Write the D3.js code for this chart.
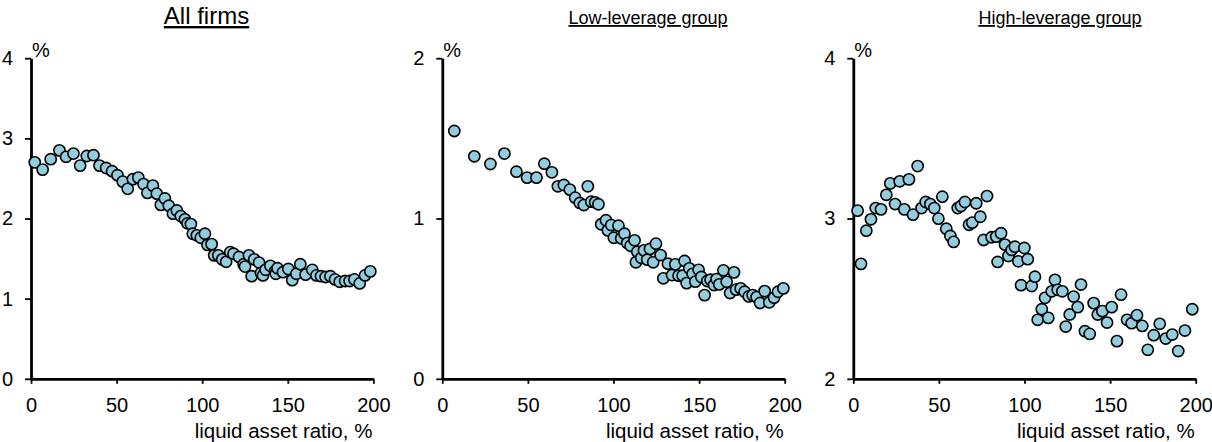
<!DOCTYPE html>
<html>
<head>
<meta charset="utf-8">
<script src="https://cdn.jsdelivr.net/npm/d3@7"></script>
<style>
  html, body { margin: 0; padding: 0; background: #fff; }
  svg { display: block; font-family: "Liberation Sans", Arial, sans-serif; }
</style>
</head>
<body>
<svg id="chart" width="1212" height="442"></svg>
<script>
// Panel titles and axis labels
const panelTitles = ["All firms", "Low-leverage group", "High-leverage group"];
const xTickValues = [0, 50, 100, 150, 200];
const yTickSets = [[0, 1, 2, 3, 4], [0, 1, 2], [2, 3, 4]];
const xAxisLabel = "liquid asset ratio, %";
const yUnitLabel = "%";

// All firms: liquid asset ratio (%) vs rate (%)
const allRatio = [2.2, 6.8, 11.5, 16.6, 20.5, 24.8, 28.7, 32.6, 36.5, 40.0, 43.9, 47.4, 50.5, 53.6, 56.5, 59.5, 62.7, 65.7, 68.0, 71.2,
  73.5, 75.8, 78.2, 80.5, 82.9, 85.2, 87.5, 89.9, 91.4, 93.4, 94.5, 96.9, 99.2, 101.6, 103.1, 105.5, 107.0, 109.4, 111.7, 114.0,
  116.4, 118.3, 121.5, 124.2, 125.0, 127.3, 128.9, 130.4, 133.2, 134.3, 135.5, 137.0, 139.8, 142.5, 143.0, 144.0, 147.2, 150.3, 152.6, 155.0,
  157.3, 160.4, 164.3, 166.7, 169.4, 172.1, 174.9, 177.6, 180.3, 183.5, 186.1, 188.9, 192.0, 195.1, 198.2];
const allRate = [2.70, 2.61, 2.74, 2.85, 2.77, 2.81, 2.66, 2.78, 2.79, 2.66, 2.63, 2.59, 2.54, 2.46, 2.37, 2.49, 2.51, 2.43, 2.32, 2.41,
  2.31, 2.17, 2.25, 2.16, 2.06, 2.10, 2.03, 1.99, 1.94, 1.93, 1.81, 1.79, 1.76, 1.81, 1.67, 1.68, 1.54, 1.54, 1.49, 1.46,
  1.58, 1.56, 1.52, 1.43, 1.40, 1.54, 1.28, 1.49, 1.45, 1.32, 1.29, 1.36, 1.41, 1.34, 1.31, 1.38, 1.33, 1.37, 1.23, 1.31,
  1.43, 1.30, 1.36, 1.29, 1.28, 1.27, 1.28, 1.24, 1.21, 1.22, 1.22, 1.24, 1.19, 1.29, 1.34];

// Low-leverage group
const lowRatio = [7.0, 18.7, 28.1, 36.3, 43.3, 49.5, 55.0, 59.6, 64.0, 67.5, 71.0, 74.5, 77.6, 80.3, 82.7, 85.0, 87.0, 89.3, 91.2, 92.8,
  95.6, 96.7, 98.7, 100.2, 102.9, 104.5, 106.4, 108.0, 110.0, 112.3, 113.9, 113.1, 116.2, 117.8, 119.7, 121.3, 123.2, 124.8, 127.5, 129.1,
  131.8, 134.2, 136.1, 138.0, 140.4, 141.5, 142.7, 144.3, 146.2, 147.8, 149.7, 151.3, 153.2, 154.8, 156.7, 158.7, 160.2, 161.8, 164.2, 166.1,
  168.1, 170.4, 171.6, 174.3, 176.6, 179.0, 181.3, 183.6, 185.6, 188.3, 191.0, 193.8, 196.1, 199.2];
const lowRate = [1.546, 1.388, 1.340, 1.405, 1.292, 1.255, 1.255, 1.342, 1.288, 1.201, 1.209, 1.180, 1.130, 1.097, 1.084, 1.201, 1.105, 1.101, 1.089, 0.964,
  0.989, 0.926, 0.959, 0.880, 0.955, 0.876, 0.905, 0.847, 0.830, 0.864, 0.793, 0.727, 0.755, 0.801, 0.743, 0.810, 0.727, 0.843, 0.772, 0.627,
  0.718, 0.647, 0.714, 0.643, 0.643, 0.735, 0.597, 0.689, 0.655, 0.606, 0.680, 0.635, 0.522, 0.610, 0.618, 0.585, 0.622, 0.589, 0.677, 0.605,
  0.535, 0.664, 0.556, 0.564, 0.543, 0.514, 0.522, 0.510, 0.473, 0.547, 0.477, 0.506, 0.543, 0.564];

// High-leverage group
const highRatio = [2.5, 4.5, 7.6, 10.3, 13.1, 16.2, 19.3, 21.6, 24.4, 27.1, 29.8, 32.5, 34.9, 37.6, 39.9, 42.3, 45.0, 47.3, 49.7, 52.0,
  54.3, 56.7, 58.6, 61.0, 62.9, 65.2, 67.6, 69.5, 71.8, 74.2, 76.1, 78.1, 80.8, 83.5, 86.3, 84.3, 88.6, 90.6, 92.5, 94.4,
  96.4, 99.9, 101.9, 98.0, 104.2, 106.1, 107.7, 110.1, 112.0, 113.9, 115.9, 117.8, 119.4, 122.1, 124.1, 126.4, 128.7, 131.1, 133.0, 135.3,
  138.1, 140.4, 142.8, 145.5, 148.2, 150.9, 154.0, 156.4, 159.9, 162.6, 165.7, 168.8, 172.0, 175.5, 179.0, 182.5, 186.3, 189.8, 193.7, 198.0];
const highRate = [3.049, 2.717, 2.924, 2.995, 3.065, 3.057, 3.148, 3.219, 3.090, 3.232, 3.057, 3.244, 3.024, 3.327, 3.065, 3.103, 3.090, 3.065, 2.999, 3.136,
  2.936, 2.891, 2.854, 3.065, 3.078, 3.103, 2.961, 2.974, 3.095, 3.011, 2.866, 3.140, 2.883, 2.887, 2.908, 2.729, 2.837, 2.766, 2.804, 2.824,
  2.733, 2.816, 2.746, 2.584, 2.579, 2.637, 2.368, 2.434, 2.505, 2.380, 2.546, 2.617, 2.555, 2.546, 2.326, 2.401, 2.513, 2.447, 2.588, 2.297,
  2.280, 2.472, 2.401, 2.422, 2.351, 2.447, 2.235, 2.525, 2.368, 2.347, 2.397, 2.330, 2.181, 2.272, 2.343, 2.251, 2.276, 2.173, 2.301, 2.434];

const series = [
  { ratio: allRatio, rate: allRate },
  { ratio: lowRatio, rate: lowRate },
  { ratio: highRatio, rate: highRate }
];

// Layout
const panelLefts = [31, 442.3, 853.3];
const plotWidth = 342.4;
const plotTop = 58.2;
const plotBottom = 378.8;
const titleCenters = [206.5, 648, 1060];
const titleSizes = [24, 18, 18];

const svg = d3.select("#chart");

series.forEach((s, i) => {
  const left = panelLefts[i];
  const ticks = yTickSets[i];
  const x = d3.scaleLinear().domain([0, 200]).range([left, left + plotWidth]);
  const y = d3.scaleLinear().domain([ticks[0], ticks[ticks.length - 1]]).range([plotBottom, plotTop]);
  const g = svg.append("g");

  // Title (underlined)
  g.append("text")
    .attr("x", titleCenters[i])
    .attr("y", 24)
    .attr("text-anchor", "middle")
    .attr("font-size", titleSizes[i])
    .attr("text-decoration", "underline")
    .attr("fill", "#000")
    .text(panelTitles[i]);

  // Axes
  const yAxis = d3.axisLeft(y).tickValues(ticks).tickFormat(d3.format("d"))
    .tickSize(6).tickSizeOuter(0).tickPadding(12);
  const xAxis = d3.axisBottom(x).tickValues(xTickValues).tickFormat(d3.format("d"))
    .tickSize(5).tickSizeOuter(0).tickPadding(14);

  const ya = g.append("g").attr("transform", `translate(${left},0)`).call(yAxis);
  const xa = g.append("g").attr("transform", `translate(0,${plotBottom})`).call(xAxis);

  [ya, xa].forEach(a => {
    a.select(".domain").attr("stroke", "#000").attr("stroke-width", 2.8);
    a.selectAll(".tick line").attr("stroke", "#000").attr("stroke-width", 1.8);
    a.selectAll(".tick text").attr("fill", "#000").attr("font-size", 20)
      .attr("font-family", "'Liberation Sans', Arial, sans-serif");
  });

  // Unit label on the y axis
  g.append("text")
    .attr("x", left + 1)
    .attr("y", plotTop - 1)
    .attr("font-size", 20)
    .attr("fill", "#000")
    .text(yUnitLabel);

  // X axis title
  g.append("text")
    .attr("x", left + plotWidth - 1)
    .attr("y", 438)
    .attr("text-anchor", "end")
    .attr("font-size", 20.5)
    .attr("fill", "#000")
    .text(xAxisLabel);

  // Scatter points
  const pts = s.ratio.map((r, k) => ({ r, v: s.rate[k] }));
  g.append("g").selectAll("circle").data(pts).join("circle")
    .attr("cx", d => x(d.r))
    .attr("cy", d => y(d.v))
    .attr("r", 5.6)
    .attr("fill", "#93CDDD")
    .attr("stroke", "#000")
    .attr("stroke-width", 1.6);
});
</script>
</body>
</html>
